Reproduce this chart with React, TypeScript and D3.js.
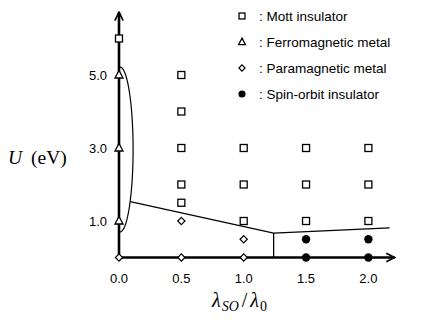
import React, { useEffect, useRef } from 'react';
import * as d3 from 'd3';

// phase diagram points (lambda_SO / lambda_0, U in eV)
const mottPoints: [number, number][] = [
  [0, 6], [0.5, 5], [0.5, 4], [0.5, 3], [0.5, 2], [0.5, 1.5],
  [1, 3], [1, 2], [1, 1], [1.5, 3], [1.5, 2], [1.5, 1], [2, 3], [2, 2], [2, 1],
];
const ferroPoints: [number, number][] = [[0, 5], [0, 3], [0, 1]];
const paraPoints: [number, number][] = [[0, 0], [0.5, 0], [0.5, 1], [1, 0.5], [1, 0]];
const soPoints: [number, number][] = [[1.5, 0.5], [1.5, 0], [2, 0.5], [2, 0]];

// phase boundaries
const boundaryA: [number, number][] = [[0.09, 1.53], [1.24, 0.67], [2.17, 0.81]];
const boundaryB: [number, number][] = [[1.24, 0.67], [1.24, 0]];
// ferromagnetic region: half ellipse centre (x, U), radii
const ferroRegion = { cx: 0.008, cy: 2.96, rx: 0.105, ry: 2.26 };

const xTicks = [0, 0.5, 1, 1.5, 2];
const yTicks = [1, 3, 5];

const legendItems = [
  { key: 'mott', label: ': Mott insulator' },
  { key: 'ferro', label: ': Ferromagnetic metal' },
  { key: 'para', label: ': Paramagnetic metal' },
  { key: 'so', label: ': Spin-orbit insulator' },
];

const App = () => {
  const svgRef = useRef<SVGSVGElement>(null);

  useEffect(() => {
    const svg = d3.select(svgRef.current);
    svg.selectAll('*').remove();

    const x = d3.scaleLinear().domain([0, 2]).range([119, 368.4]);
    const y = d3.scaleLinear().domain([0, 5]).range([257.5, 75]);
    const sans = 'Liberation Sans, Arial, sans-serif';
    const serif = 'Liberation Serif, Times New Roman, serif';

    const defs = svg.append('defs');
    defs.append('marker')
      .attr('id', 'arrow')
      .attr('viewBox', '0 0 10 10')
      .attr('refX', 9).attr('refY', 5)
      .attr('markerWidth', 4).attr('markerHeight', 4)
      .attr('orient', 'auto')
      .append('path')
      .attr('d', 'M1,1 L9,5 L1,9')
      .attr('fill', 'none').attr('stroke', '#000').attr('stroke-width', 1.6);

    // boundaries
    const line = d3.line<[number, number]>().x(d => x(d[0])).y(d => y(d[1]));
    [boundaryA, boundaryB].forEach(b => {
      svg.append('path').attr('d', line(b)).attr('fill', 'none')
        .attr('stroke', '#000').attr('stroke-width', 1.3);
    });
    const e = ferroRegion;
    const ellipse = d3.range(-90, 91, 3).map(a => {
      const t = (a * Math.PI) / 180;
      return [e.cx + e.rx * Math.cos(t), e.cy + e.ry * Math.sin(t)] as [number, number];
    });
    svg.append('path').attr('d', line(ellipse)).attr('fill', 'none')
      .attr('stroke', '#000').attr('stroke-width', 1.2);

    // axes
    svg.append('line')
      .attr('x1', x(0)).attr('y1', y(0)).attr('x2', x(2.21)).attr('y2', y(0))
      .attr('stroke', '#000').attr('stroke-width', 2.6).attr('marker-end', 'url(#arrow)');
    svg.append('line')
      .attr('x1', x(0)).attr('y1', y(0)).attr('x2', x(0)).attr('y2', y(6.72))
      .attr('stroke', '#000').attr('stroke-width', 2.6).attr('marker-end', 'url(#arrow)');

    svg.append('g').selectAll('text').data(xTicks).enter().append('text')
      .attr('x', d => x(d)).attr('y', 283)
      .attr('text-anchor', 'middle')
      .attr('font-family', sans).attr('font-size', 13)
      .text(d => d.toFixed(1));
    svg.append('g').selectAll('text').data(yTicks).enter().append('text')
      .attr('x', 107).attr('y', d => y(d) + 4.5)
      .attr('text-anchor', 'end')
      .attr('font-family', sans).attr('font-size', 13)
      .text(d => d.toFixed(1));

    // axis titles
    const yt = svg.append('text').attr('x', 8).attr('y', 164)
      .attr('font-family', serif).attr('font-size', 19.5);
    yt.append('tspan').attr('font-style', 'italic').text('U');
    yt.append('tspan').attr('dx', 9).text('(eV)');

    const xt = svg.append('text').attr('x', 212).attr('y', 307)
      .attr('font-family', serif).attr('font-size', 20);
    xt.append('tspan').attr('font-style', 'italic').text('λ');
    xt.append('tspan').attr('font-style', 'italic').attr('font-size', 14).attr('dy', 4).attr('dx', 1).text('SO');
    xt.append('tspan').attr('dy', -4).attr('dx', 3).text('/');
    xt.append('tspan').attr('font-style', 'italic').attr('dx', 3).text('λ');
    xt.append('tspan').attr('font-size', 14).attr('dy', 4).attr('dx', 1).text('0');

    // markers
    const drawMarker = (g: any, kind: string, cx: number, cy: number, s = 1) => {
      if (kind === 'mott') {
        g.append('rect').attr('x', cx - 3.5 * s).attr('y', cy - 3.5 * s).attr('width', 7 * s).attr('height', 7 * s)
          .attr('fill', '#fff').attr('stroke', '#000').attr('stroke-width', 1.3);
      } else if (kind === 'ferro') {
        g.append('path').attr('d', `M${cx},${cy - 4.5 * s} L${cx + 4 * s},${cy + 3 * s} L${cx - 4 * s},${cy + 3 * s} Z`)
          .attr('fill', '#fff').attr('stroke', '#000').attr('stroke-width', 1.3);
      } else if (kind === 'para') {
        g.append('path').attr('d', `M${cx},${cy - 3.6 * s} L${cx + 3.6 * s},${cy} L${cx},${cy + 3.6 * s} L${cx - 3.6 * s},${cy} Z`)
          .attr('fill', '#fff').attr('stroke', '#000').attr('stroke-width', 1.2);
      } else {
        g.append('circle').attr('cx', cx).attr('cy', cy).attr('r', 4.2 * s).attr('fill', '#000');
      }
    };

    const pts = svg.append('g');
    const sets: [string, [number, number][]][] = [
      ['mott', mottPoints], ['ferro', ferroPoints], ['para', paraPoints], ['so', soPoints],
    ];
    sets.forEach(([kind, data]) => {
      data.forEach(d => drawMarker(pts, kind, x(d[0]), y(d[1])));
    });

    // legend
    const lg = svg.append('g');
    legendItems.forEach((item, i) => {
      const ly = 16 + i * 26;
      drawMarker(lg, item.key, 242, ly, 0.85);
      lg.append('text').attr('x', 259).attr('y', ly + 4.5)
        .attr('font-family', sans).attr('font-size', 13.5)
        .text(item.label);
    });
  }, []);

  return (
    <svg ref={svgRef} width={436} height={327}
      style={{ position: 'absolute', left: 0, top: 0, background: '#fff' }} />
  );
};

export default App;
